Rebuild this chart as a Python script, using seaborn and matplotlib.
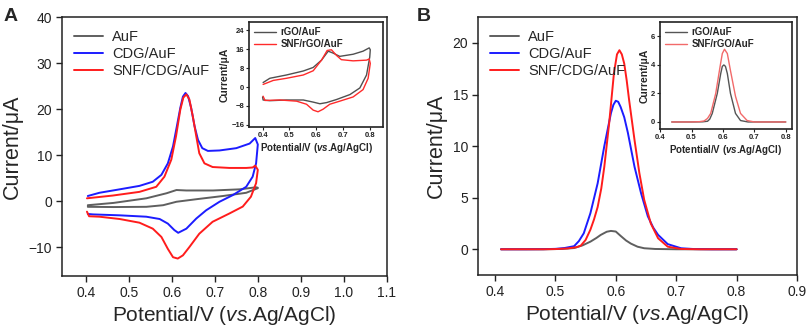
import matplotlib
matplotlib.use("Agg")
import matplotlib.pyplot as plt
import seaborn as sns
import pandas as pd
import numpy as np

# ---------------- data ----------------
# Panel A: cyclic voltammograms (forward scan then reverse scan)
auf_cv_v = [0.405, 0.465, 0.541, 0.588, 0.611, 0.634, 0.696, 0.758, 0.796, 0.800,
            0.800, 0.773, 0.719, 0.657, 0.611, 0.580, 0.541, 0.465, 0.405]
auf_cv_i = [-0.9, -0.4, 0.6, 1.7, 2.4, 2.3, 2.3, 2.55, 3.0, 2.9,
            2.8, 1.8, 1.1, 0.4, -0.15, -0.9, -1.25, -1.3, -1.25]

cdg_cv_v = [0.405, 0.432, 0.479, 0.525, 0.556, 0.576, 0.591, 0.603, 0.612, 0.620, 0.626,
            0.632, 0.638, 0.645, 0.653, 0.661, 0.671, 0.684, 0.711, 0.750, 0.781, 0.794,
            0.800, 0.796, 0.788, 0.773, 0.742, 0.711, 0.680, 0.657, 0.634, 0.615, 0.606,
            0.591, 0.572, 0.541, 0.479, 0.417, 0.405]
cdg_cv_i = [1.1, 1.8, 2.55, 3.3, 4.2, 5.7, 8.2, 11.9, 16.3, 20.3, 22.7,
            23.5, 22.8, 20.3, 16.3, 13.3, 11.5, 10.9, 11.0, 11.5, 12.5, 13.7,
            12.3, 8.2, 5.3, 3.1, 1.3, -0.15, -2.0, -3.8, -6.0, -6.9, -6.3,
            -4.9, -3.9, -3.4, -3.1, -2.9, -2.8]

snf_cv_v = [0.403, 0.463, 0.525, 0.564, 0.583, 0.599, 0.610, 0.620, 0.627, 0.634, 0.641,
            0.649, 0.657, 0.664, 0.676, 0.695, 0.734, 0.773, 0.788, 0.794,
            0.800, 0.796, 0.784, 0.765, 0.734, 0.695, 0.664, 0.641, 0.626, 0.614, 0.603,
            0.591, 0.576, 0.556, 0.525, 0.479, 0.432, 0.408, 0.403]
snf_cv_i = [0.6, 1.2, 2.0, 3.1, 5.3, 9.0, 14.1, 19.9, 22.5, 23.2, 22.1,
            18.4, 14.1, 10.4, 8.2, 7.4, 7.2, 7.2, 7.3, 7.7,
            6.8, 3.9, 0.95, -1.2, -2.7, -4.5, -7.1, -10.0, -11.8, -12.5, -12.2,
            -10.4, -7.8, -6.0, -4.7, -3.9, -3.4, -3.3, -2.3]

# Panel A inset
rgo_cv_v = [0.402, 0.427, 0.489, 0.552, 0.589, 0.620, 0.645, 0.663, 0.688, 0.738, 0.775, 0.798,
            0.802, 0.800, 0.788, 0.763, 0.726, 0.676, 0.639, 0.614, 0.589, 0.552, 0.489, 0.427,
            0.402, 0.400]
rgo_cv_i = [1.9, 3.7, 5.1, 6.8, 8.3, 11.4, 15.2, 14.4, 13.0, 13.9, 15.2, 16.6,
            15.8, 12.7, 5.1, -0.4, -3.2, -5.3, -6.6, -7.1, -6.4, -5.5, -5.5, -5.8,
            -5.5, -4.2]
snfrgo_cv_v = [0.402, 0.440, 0.489, 0.552, 0.589, 0.620, 0.641, 0.657, 0.676, 0.694, 0.738, 0.788,
               0.798, 0.802, 0.794, 0.775, 0.738, 0.688, 0.651, 0.626, 0.607, 0.589, 0.564, 0.527,
               0.465, 0.409, 0.402]
snfrgo_cv_i = [1.1, 2.8, 3.7, 5.1, 6.9, 11.4, 15.5, 15.8, 13.4, 11.6, 11.1, 11.4,
               11.9, 10.0, 3.7, -1.1, -4.2, -6.0, -7.3, -9.4, -10.5, -9.8, -7.3, -6.0,
               -5.5, -5.7, -3.9]

# Panel B: differential pulse voltammograms
auf_dpv_v = [0.41, 0.48, 0.51, 0.531, 0.545, 0.558, 0.568, 0.575, 0.585, 0.592, 0.600,
             0.608, 0.617, 0.625, 0.636, 0.647, 0.665, 0.70, 0.80]
auf_dpv_i = [0, 0, 0.03, 0.12, 0.38, 0.74, 1.1, 1.39, 1.7, 1.78, 1.72,
             1.3, 0.85, 0.55, 0.25, 0.1, 0.03, 0, 0]

cdg_dpv_v = [0.41, 0.45, 0.48, 0.50, 0.515, 0.531, 0.539, 0.547, 0.558, 0.570, 0.581, 0.592,
             0.596, 0.600, 0.604, 0.608, 0.614, 0.620, 0.631, 0.642, 0.653, 0.662, 0.670,
             0.686, 0.708, 0.73, 0.76, 0.80]
cdg_dpv_i = [0, 0, 0.01, 0.04, 0.12, 0.3, 0.8, 1.55, 3.5, 6.4, 10.0, 13.2,
             14.0, 14.4, 14.3, 13.8, 12.8, 11.3, 8.0, 5.4, 3.2, 2.1, 1.4,
             0.5, 0.1, 0.02, 0, 0]

snf_dpv_v = [0.41, 0.45, 0.48, 0.50, 0.52, 0.535, 0.542, 0.550, 0.558, 0.564, 0.570, 0.576,
             0.581, 0.589, 0.597, 0.602, 0.606, 0.610, 0.614, 0.618, 0.622, 0.631, 0.639,
             0.647, 0.658, 0.670, 0.686, 0.708, 0.74, 0.80]
snf_dpv_i = [0, 0, 0, 0.02, 0.08, 0.2, 0.35, 0.9, 1.9, 2.9, 4.1, 5.9,
             8.0, 12.2, 17.1, 18.9, 19.3, 18.9, 18.0, 16.4, 14.5, 10.6, 7.4,
             4.8, 2.5, 1.07, 0.25, 0.03, 0, 0]

# Panel B inset
rgo_dpv_v = [0.437, 0.50, 0.535, 0.551, 0.558, 0.566, 0.582, 0.593, 0.598, 0.603, 0.608,
             0.614, 0.624, 0.640, 0.656, 0.68, 0.80]
rgo_dpv_i = [0, 0, 0.01, 0.05, 0.2, 0.6, 2.0, 3.4, 3.9, 4.0, 3.9,
             3.4, 2.0, 0.6, 0.1, 0, 0]
snfrgo_dpv_v = [0.437, 0.50, 0.525, 0.540, 0.551, 0.561, 0.577, 0.591, 0.598, 0.605, 0.614,
                0.624, 0.640, 0.656, 0.677, 0.70, 0.80]
snfrgo_dpv_i = [0, 0, 0.02, 0.07, 0.25, 0.6, 2.0, 3.9, 4.8, 5.1, 4.8,
                3.6, 1.8, 0.6, 0.1, 0, 0]

# ---------------- style ----------------
sns.set_style("ticks")
plt.rcParams["font.family"] = ["Liberation Sans", "DejaVu Sans"]
plt.rcParams["mathtext.fontset"] = "custom"
plt.rcParams["mathtext.rm"] = "Liberation Sans"
plt.rcParams["mathtext.it"] = "Liberation Sans:italic"
plt.rcParams["mathtext.bf"] = "Liberation Sans:bold"
plt.rcParams["mathtext.bfit"] = "Liberation Sans:bold:italic"
plt.rcParams["axes.edgecolor"] = "#222222"
plt.rcParams["xtick.color"] = "#222222"
plt.rcParams["ytick.color"] = "#222222"

GRAY = "#5f5f5f"
BLUE = "#1c1cff"
RED = "#ff1c1c"
XLAB = r"Potential/V ($\mathit{vs}$.Ag/AgCl)"
XLAB_IN = r"Potential/V ($\mathbfit{vs}$.Ag/AgCl)"

fig = plt.figure(figsize=(8.09, 3.31), dpi=100)
axA = fig.add_axes([0.0766, 0.166, 0.4017, 0.7825])
axB = fig.add_axes([0.5909, 0.169, 0.3943, 0.779])
inA = fig.add_axes([0.308, 0.616, 0.1656, 0.317])
inB = fig.add_axes([0.816, 0.610, 0.163, 0.323])


def draw(ax, v, i, color, label, lw=1.4):
    sns.lineplot(x=v, y=i, sort=False, estimator=None, color=color,
                 linewidth=lw, label=label, ax=ax)


def main_style(ax):
    for s in ax.spines.values():
        s.set_linewidth(1.1)
    ax.tick_params(direction="out", length=4, width=1.0, labelsize=10, pad=3)
    ax.set_xlabel(XLAB, fontsize=15, labelpad=3)
    ax.set_ylabel("Current/μA", fontsize=15.5, labelpad=4)
    ax.legend(loc="upper left", bbox_to_anchor=(0.01, 0.985), frameon=False,
              fontsize=10.5, handlelength=2.0, handletextpad=0.6,
              labelspacing=0.22, borderaxespad=0.2)


def inset_style(ax):
    for s in ax.spines.values():
        s.set_linewidth(1.2)
    ax.tick_params(direction="out", length=2, width=0.8, labelsize=5.5, pad=1.5)
    for t in ax.get_xticklabels() + ax.get_yticklabels():
        t.set_fontweight("bold")
    ax.set_xlabel(XLAB_IN, fontsize=7, fontweight="bold", labelpad=1.5)
    ax.set_ylabel("Current/μA", fontsize=7.5, fontweight="bold", labelpad=1)
    ax.legend(loc="upper left", frameon=False, handlelength=2.3,
              handletextpad=0.4, labelspacing=0.2, borderaxespad=0.1,
              prop={"weight": "bold", "size": 7})


# ---------- Panel A ----------
draw(axA, auf_cv_v, auf_cv_i, GRAY, "AuF")
draw(axA, cdg_cv_v, cdg_cv_i, BLUE, "CDG/AuF")
draw(axA, snf_cv_v, snf_cv_i, RED, "SNF/CDG/AuF")
axA.set_xlim(0.345, 1.1)
axA.set_ylim(-16.3, 40)
axA.set_xticks(np.arange(0.4, 1.15, 0.1))
axA.set_xticklabels(["0.4", "0.5", "0.6", "0.7", "0.8", "0.9", "1.0", "1.1"])
axA.set_yticks([-10, 0, 10, 20, 30, 40])
main_style(axA)

draw(inA, rgo_cv_v, rgo_cv_i, "#505050", "rGO/AuF", lw=1.0)
draw(inA, snfrgo_cv_v, snfrgo_cv_i, "#ff2a2a", "SNF/rGO/AuF", lw=1.0)
inA.set_xlim(0.35, 0.85)
inA.set_ylim(-17, 27.5)
inA.set_xticks([0.4, 0.5, 0.6, 0.7, 0.8])
inA.set_yticks([-16, -8, 0, 8, 16, 24])
inset_style(inA)

# ---------- Panel B ----------
draw(axB, auf_dpv_v, auf_dpv_i, GRAY, "AuF")
draw(axB, cdg_dpv_v, cdg_dpv_i, BLUE, "CDG/AuF")
draw(axB, snf_dpv_v, snf_dpv_i, RED, "SNF/CDG/AuF")
axB.set_xlim(0.372, 0.9)
axB.set_ylim(-2.5, 22.5)
axB.set_xticks([0.4, 0.5, 0.6, 0.7, 0.8, 0.9])
axB.set_yticks([0, 5, 10, 15, 20])
main_style(axB)

draw(inB, rgo_dpv_v, rgo_dpv_i, "#555555", "rGO/AuF", lw=1.0)
draw(inB, snfrgo_dpv_v, snfrgo_dpv_i, "#f26a6a", "SNF/rGO/AuF", lw=1.0)
inB.set_xlim(0.40, 0.82)
inB.set_ylim(-0.5, 7)
inB.set_xticks([0.4, 0.5, 0.6, 0.7, 0.8])
inB.set_yticks([0, 2, 4, 6])
inset_style(inB)

# panel letters
fig.text(0.004, 0.975, "A", fontsize=14, fontweight="bold", va="top", ha="left")
fig.text(0.515, 0.975, "B", fontsize=14, fontweight="bold", va="top", ha="left")

fig.savefig("out.png", dpi=100)
